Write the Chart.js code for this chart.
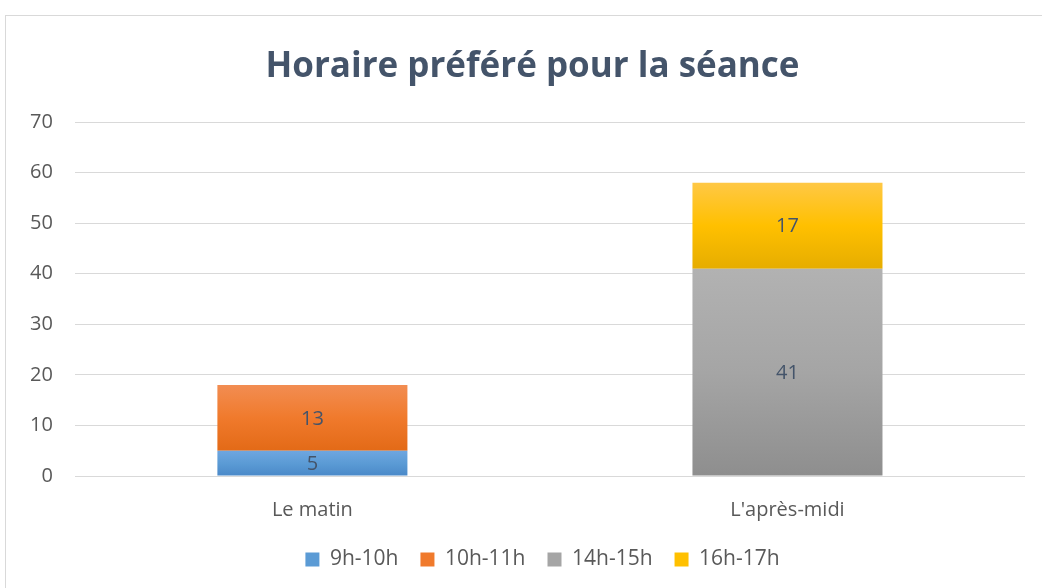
<!DOCTYPE html>
<html>
<head>
<meta charset="utf-8">
<script src="https://cdn.jsdelivr.net/npm/chart.js@4.4.0/dist/chart.umd.min.js"></script>
<style>
    html, body { margin: 0; padding: 0; background: #fff; }
    #frame {
        position: absolute; left: 5px; top: 15px;
        width: 1045px; height: 580px;
        border: 1px solid #D9D9D9; box-sizing: border-box;
    }
    #wrap { position: absolute; left: 0; top: 0; width: 1040px; height: 572px; }
</style>
</head>
<body>
<div id="frame"><div id="wrap"><canvas id="chart"></canvas></div></div>
<script>
// ──────────────────────────────────────
// Data
// ──────────────────────────────────────
const categories = ['Le matin', "L'après-midi"];
const seriesNames = ['9h-10h', '10h-11h', '14h-15h', '16h-17h'];
const s9h10h = [5, 0];
const s10h11h = [13, 0];
const s14h15h = [0, 41];
const s16h17h = [0, 17];
const yTicks = [0, 10, 20, 30, 40, 50, 60, 70];

// top, middle, bottom colours (Office-like gradient)
const GRADIENTS = [
    ['#6EA6E0', '#5B9BD5', '#4A88C8'],
    ['#F28D52', '#F07A2C', '#E36A17'],
    ['#B2B2B2', '#A5A5A5', '#8E8E8E'],
    ['#FFC845', '#FFC000', '#E6AD00'],
];

const allSeries = [s9h10h, s10h11h, s14h15h, s16h17h];
const FONT = "'Open Sans', sans-serif";

function barGradient(ctx, dsIndex) {
    const chart = ctx.chart;
    const y = chart.scales.y;
    if (!y || ctx.dataIndex === undefined) return GRADIENTS[dsIndex][1];
    let base = 0;
    for (let k = 0; k < dsIndex; k++) base += allSeries[k][ctx.dataIndex];
    const val = allSeries[dsIndex][ctx.dataIndex];
    const top = y.getPixelForValue(base + val);
    const bottom = y.getPixelForValue(base);
    if (!isFinite(top) || !isFinite(bottom) || top === bottom) return GRADIENTS[dsIndex][1];
    const g = chart.ctx.createLinearGradient(0, top, 0, bottom);
    const c = GRADIENTS[dsIndex];
    g.addColorStop(0, c[0]);
    g.addColorStop(0.5, c[1]);
    g.addColorStop(1, c[2]);
    return g;
}

// ──────────────────────────────────────
// Value labels inside bars
// ──────────────────────────────────────
const valueLabels = {
    id: 'valueLabels',
    afterDatasetsDraw(chart) {
        const ctx = chart.ctx;
        ctx.save();
        ctx.font = "20px " + FONT;
        ctx.fillStyle = '#44546A';
        ctx.textAlign = 'center';
        ctx.textBaseline = 'middle';
        chart.data.datasets.forEach((ds, i) => {
            const meta = chart.getDatasetMeta(i);
            meta.data.forEach((bar, j) => {
                const v = ds.data[j];
                if (!v) return;
                const p = bar.getProps(['x', 'y', 'base'], true);
                ctx.fillText(String(v), p.x, (p.y + p.base) / 2 + 1);
            });
        });
        ctx.restore();
    }
};

// nudge title and legend to the right, like the original
const shiftBlocks = {
    id: 'shiftBlocks',
    afterLayout(chart) {
        if (chart.titleBlock) { chart.titleBlock.left += 16; chart.titleBlock.right += 16; }
        if (chart.legend) { chart.legend.left += 26; chart.legend.right += 26; }
    }
};

new Chart(document.getElementById('chart'), {
    type: 'bar',
    data: {
        labels: categories,
        datasets: allSeries.map((d, i) => ({
            label: seriesNames[i],
            data: d,
            backgroundColor: (ctx) => barGradient(ctx, i),
            borderWidth: 0,
            barPercentage: 0.8,
            categoryPercentage: 0.5,
        }))
    },
    options: {
        responsive: true,
        maintainAspectRatio: false,
        animation: false,
        layout: { padding: { left: 2, right: 21, top: 18, bottom: 8 } },
        plugins: {
            title: {
                display: true,
                text: 'Horaire préféré pour la séance',
                color: '#44546A',
                font: { size: 35, weight: 'bold', family: FONT },
                padding: { top: 12, bottom: 34 },
            },
            legend: {
                position: 'bottom',
                labels: {
                    color: '#595959',
                    font: { size: 21, family: FONT },
                    boxWidth: 14,
                    boxHeight: 14,
                    padding: 22,
                    generateLabels(chart) {
                        return seriesNames.map((n, i) => ({
                            text: n,
                            fillStyle: GRADIENTS[i][1],
                            strokeStyle: GRADIENTS[i][1],
                            lineWidth: 0,
                            datasetIndex: i,
                            fontColor: '#595959',
                        }));
                    }
                }
            },
            tooltip: { enabled: false },
        },
        scales: {
            x: {
                stacked: true,
                grid: { display: false },
                border: { display: false },
                afterFit(axis) { axis.height -= 9; },
                ticks: {
                    color: '#595959',
                    font: { size: 20, family: FONT },
                    padding: 14,
                }
            },
            y: {
                stacked: true,
                min: 0,
                max: 70,
                afterBuildTicks(axis) {
                    axis.ticks = yTicks.map(v => ({ value: v }));
                },
                grid: { color: '#D9D9D9', lineWidth: 1, drawTicks: false },
                border: { display: false },
                ticks: {
                    color: '#595959',
                    font: { size: 20, family: FONT },
                    padding: 22,
                }
            }
        }
    },
    plugins: [valueLabels, shiftBlocks]
});
</script>
</body>
</html>
